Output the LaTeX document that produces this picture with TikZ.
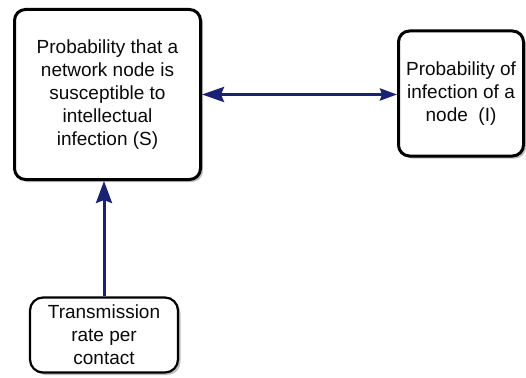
\documentclass[tikz,border=0pt]{standalone}
\usepackage{fontspec}
\setmainfont{Liberation Sans}
\usetikzlibrary{shadows,arrows.meta}
\definecolor{navy}{RGB}{26,34,118}
\definecolor{txt}{RGB}{10,10,10}
\begin{document}
\begin{tikzpicture}[x=1pt,y=1pt,
 box/.style={draw=black, fill=white, rounded corners=11pt, line width=3pt,
   align=center, inner sep=0pt, font=\fontsize{19}{23}\selectfont, text=txt,
   drop shadow={shadow xshift=2.5pt, shadow yshift=-2.5pt, fill=black!50}},
 link/.style={draw=navy, line width=3pt}]
\useasboundingbox (0,0) rectangle (526,-377);
\node[box, minimum width=186pt, minimum height=170pt] (S) at (107.5,-94.5)
  {Probability that a\\network node is\\susceptible to\\intellectual\\infection (S)};
\node[box, minimum width=125pt, minimum height=125pt] (I) at (461,-93.5)
  {Probability of\\infection of a\\node\ \ (I)};
\node[box, line width=2.2pt, rounded corners=13pt, minimum width=148pt, minimum height=75pt] (T) at (104,-335)
  {Transmission\\rate per\\contact};
\draw[link, {Stealth[length=22pt,width=15pt,inset=3pt]}-{Stealth[length=17pt,width=12pt,inset=2pt]}]
  (S.east) -- (S.east -| I.west);
\draw[link, -{Stealth[length=22pt,width=16pt,inset=3pt]}]
  (T.north) -- (T.north |- S.south);
\end{tikzpicture}
\end{document}
